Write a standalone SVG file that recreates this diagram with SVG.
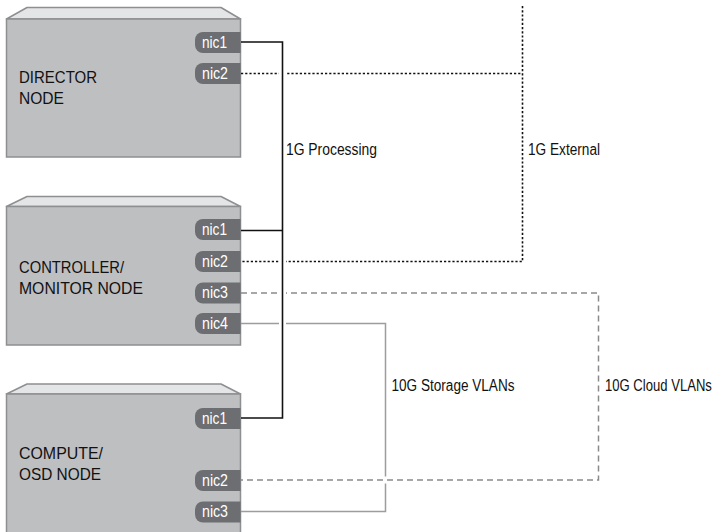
<svg xmlns="http://www.w3.org/2000/svg" width="720" height="532" viewBox="0 0 720 532">
<style>
.front{fill:#bebfc1;stroke:#8e8f91;stroke-width:1.5}
.top{fill:#e4e5e7;stroke:#8e8f91;stroke-width:1.5;stroke-linejoin:round}
.pill{fill:#6d6e71}
.nic{font-family:"Liberation Sans Narrow","Liberation Sans",Arial,sans-serif;font-size:16px;fill:#ffffff}
.lbl{font-family:"Liberation Sans Narrow","Liberation Sans",Arial,sans-serif;font-size:17px;fill:#111111}
.net{font-family:"Liberation Sans Narrow","Liberation Sans",Arial,sans-serif;font-size:16px;fill:#111111}
.proc{fill:none;stroke:#111;stroke-width:1.6}
.halo{fill:none;stroke:#fff;stroke-width:7}
.ext{fill:none;stroke:#111;stroke-width:1.6;stroke-dasharray:2.2 2}
.cloud{fill:none;stroke:#8a8a8a;stroke-width:1.5;stroke-dasharray:6 4}
.stor{fill:none;stroke:#9d9d9d;stroke-width:1.5}
</style>
<g id="director">
<polygon class="top" points="6.5,19 27,7.5 221,7.5 240.5,19"/>
<rect class="front" x="6.5" y="19" width="234" height="138"/>
<path class="pill" d="M240.5,32 H203 a8,8 0 0 0 -8,8 v5 a8,8 0 0 0 8,8 H240.5 Z"/>
<text class="nic" x="202" y="47.5" textLength="25" lengthAdjust="spacingAndGlyphs">nic1</text>
<path class="pill" d="M240.5,63 H203 a8,8 0 0 0 -8,8 v5 a8,8 0 0 0 8,8 H240.5 Z"/>
<text class="nic" x="202" y="78.5" textLength="26" lengthAdjust="spacingAndGlyphs">nic2</text>
<text class="lbl" x="19" y="83" textLength="78" lengthAdjust="spacingAndGlyphs">DIRECTOR</text>
<text class="lbl" x="19" y="104" textLength="45" lengthAdjust="spacingAndGlyphs">NODE</text>
</g>
<g id="controller">
<polygon class="top" points="6.5,206.5 27,196.5 221,196.5 240.5,206.5"/>
<rect class="front" x="6.5" y="206.5" width="234" height="138.5"/>
<path class="pill" d="M240.5,219 H203 a8,8 0 0 0 -8,8 v5 a8,8 0 0 0 8,8 H240.5 Z"/>
<text class="nic" x="202" y="234.5" textLength="25" lengthAdjust="spacingAndGlyphs">nic1</text>
<path class="pill" d="M240.5,251 H203 a8,8 0 0 0 -8,8 v5 a8,8 0 0 0 8,8 H240.5 Z"/>
<text class="nic" x="202" y="266.5" textLength="26" lengthAdjust="spacingAndGlyphs">nic2</text>
<path class="pill" d="M240.5,282.5 H203 a8,8 0 0 0 -8,8 v5 a8,8 0 0 0 8,8 H240.5 Z"/>
<text class="nic" x="202" y="298" textLength="26" lengthAdjust="spacingAndGlyphs">nic3</text>
<path class="pill" d="M240.5,313 H203 a8,8 0 0 0 -8,8 v5 a8,8 0 0 0 8,8 H240.5 Z"/>
<text class="nic" x="202" y="328.5" textLength="26" lengthAdjust="spacingAndGlyphs">nic4</text>
<text class="lbl" x="19" y="273" textLength="105" lengthAdjust="spacingAndGlyphs">CONTROLLER/</text>
<text class="lbl" x="19" y="293.5" textLength="124" lengthAdjust="spacingAndGlyphs">MONITOR NODE</text>
</g>
<g id="compute">
<polygon class="top" points="6.5,394 27,384 221,384 240.5,394"/>
<rect class="front" x="6.5" y="394" width="234" height="150"/>
<path class="pill" d="M240.5,408 H203 a8,8 0 0 0 -8,8 v5 a8,8 0 0 0 8,8 H240.5 Z"/>
<text class="nic" x="202" y="423.5" textLength="25" lengthAdjust="spacingAndGlyphs">nic1</text>
<path class="pill" d="M240.5,470 H203 a8,8 0 0 0 -8,8 v5 a8,8 0 0 0 8,8 H240.5 Z"/>
<text class="nic" x="202" y="485.5" textLength="26" lengthAdjust="spacingAndGlyphs">nic2</text>
<path class="pill" d="M240.5,501.5 H203 a8,8 0 0 0 -8,8 v5 a8,8 0 0 0 8,8 H240.5 Z"/>
<text class="nic" x="202" y="517" textLength="26" lengthAdjust="spacingAndGlyphs">nic3</text>
<text class="lbl" x="19" y="459" textLength="84" lengthAdjust="spacingAndGlyphs">COMPUTE/</text>
<text class="lbl" x="19" y="480" textLength="82" lengthAdjust="spacingAndGlyphs">OSD NODE</text>
</g>
<g id="connectors">
<path class="ext" d="M241,73.5 H522.5 M522.5,6 V261.5 H241"/>
<path class="cloud" d="M241,293 H598.5 V480 H241"/>
<path class="stor" d="M241,323.5 H385.5 V476.5 M385.5,483.5 V511.5 H241"/>
<path class="halo" d="M282.5,50 V410"/>
<path class="proc" d="M241,42 H282.5 V418 H241 M241,230.5 H282.5"/>
</g>
<g id="labels">
<text class="net" x="286" y="155" textLength="91" lengthAdjust="spacingAndGlyphs">1G Processing</text>
<text class="net" x="528" y="155" textLength="72" lengthAdjust="spacingAndGlyphs">1G External</text>
<text class="net" x="391.5" y="391" textLength="123" lengthAdjust="spacingAndGlyphs">10G Storage VLANs</text>
<text class="net" x="0" y="0" transform="translate(605 391) scale(0.818 1)">10G Cloud VLANs</text>
</g>
</svg>
